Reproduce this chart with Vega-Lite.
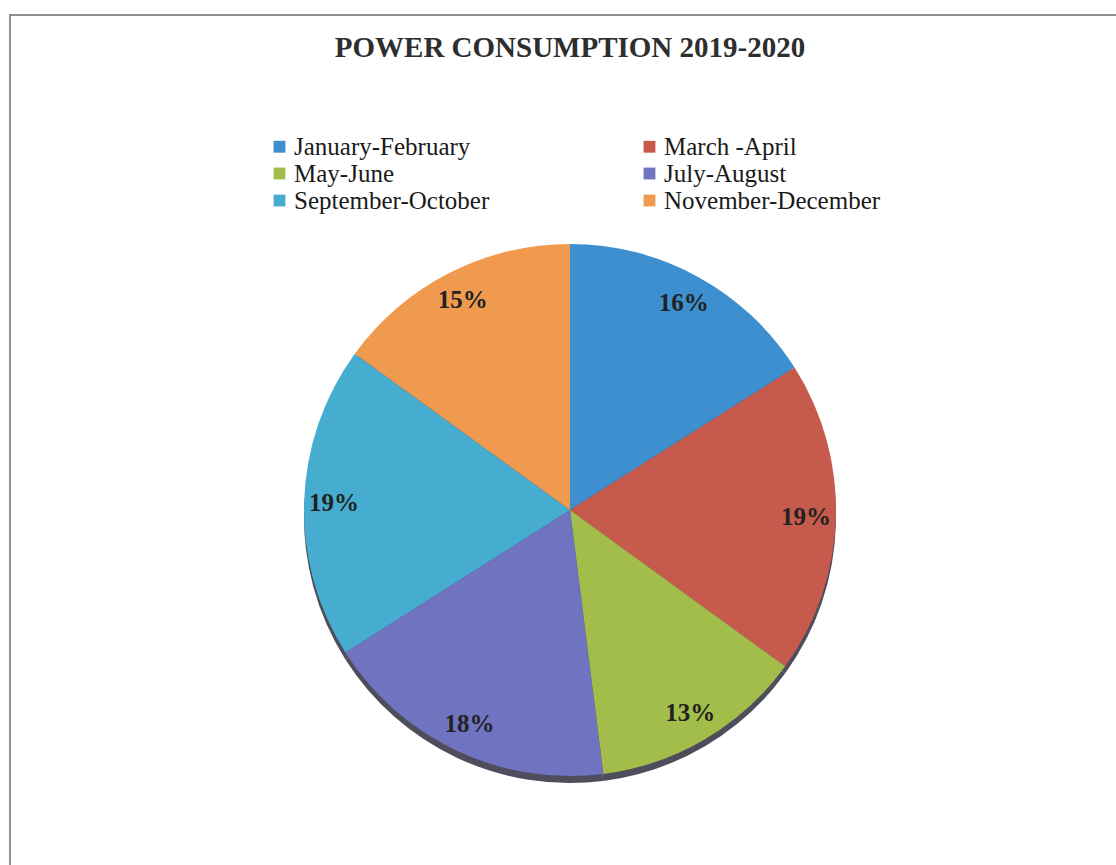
{
  "$schema": "https://vega.github.io/schema/vega-lite/v6.json",
  "autosize": "none",
  "width": 1120,
  "height": 990,
  "padding": {"left": 10, "top": 15, "right": -14, "bottom": -140},
  "background": "white",
  "view": {"stroke": "#8f8f8f", "strokeWidth": 2, "fill": "white"},
  "config": {
    "view": {"stroke": "#8f8f8f", "strokeWidth": 2},
    "font": "Liberation Serif"
  },
  "title": {
    "text": "POWER CONSUMPTION 2019-2020",
    "font": "Liberation Serif",
    "fontSize": 29,
    "fontWeight": "bold",
    "color": "#2e2e2e",
    "anchor": "middle",
    "baseline": "top",
    "offset": -48
  },
  "data": {
    "values": [
      {"ord": 1, "period": "January-February", "share": 0.16},
      {"ord": 2, "period": "March -April", "share": 0.19},
      {"ord": 3, "period": "May-June", "share": 0.13},
      {"ord": 4, "period": "July-August", "share": 0.18},
      {"ord": 5, "period": "September-October", "share": 0.19},
      {"ord": 6, "period": "November-December", "share": 0.15}
    ]
  },
  "encoding": {
    "theta": {"field": "share", "type": "quantitative", "stack": true},
    "order": {"field": "ord", "type": "quantitative"}
  },
  "layer": [
    {
      "mark": {"type": "arc", "outerRadius": 266, "yOffset": 7, "color": "#4d4d5c"}
    },
    {
      "mark": {"type": "arc", "outerRadius": 266},
      "encoding": {
        "color": {
          "field": "period",
          "type": "nominal",
          "sort": ["January-February", "March -April", "May-June", "July-August", "September-October", "November-December"],
          "scale": {
            "domain": ["January-February", "March -April", "May-June", "July-August", "September-October", "November-December"],
            "range": ["#3d8fcf", "#c65a4c", "#a2bd4a", "#7073c0", "#46acd0", "#f09a50"]
          },
          "legend": {
            "title": null,
            "orient": "none",
            "legendX": 257,
            "legendY": 119,
            "direction": "horizontal",
            "columns": 2,
            "columnPadding": 147,
            "rowPadding": 1,
            "symbolType": "square",
            "symbolSize": 140,
            "symbolStrokeWidth": 0,
            "labelFont": "Liberation Serif",
            "labelFontSize": 25,
            "labelColor": "#1a1a1a",
            "labelOffset": 2,
            "labelLimit": 400
          }
        }
      }
    },
    {
      "mark": {"type": "text", "radius": 236, "font": "Liberation Serif", "fontSize": 25, "fontWeight": "bold", "color": "#222222"},
      "encoding": {
        "text": {"field": "share", "type": "quantitative", "format": ".0%"}
      }
    }
  ]
}
